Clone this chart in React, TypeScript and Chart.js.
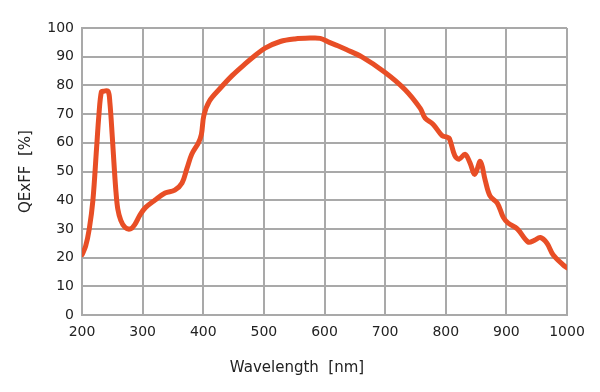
import React, { useEffect, useRef } from "react";
import { Chart, registerables } from "chart.js";

Chart.register(...registerables);

const wavelengths = [
  200, 206, 212, 218, 224, 228, 232, 236, 243, 246, 250, 253, 256, 259, 264, 271, 280, 287,
  296, 305, 320, 337, 353, 365, 373, 381, 392, 397, 401, 410, 428, 448, 469, 486, 502, 527,
  551, 576, 593, 608, 622, 636, 661, 700, 733, 758, 766, 779, 794, 802, 806, 815, 822, 832,
  840, 848, 857, 865, 873, 885, 895, 903, 918, 936, 946, 956, 967, 977, 994, 1000,
];
const qeValues = [
  21, 24, 30, 40, 58, 70, 77.8, 78, 78, 74, 62, 52, 43, 37, 33, 30.5, 30, 31.5,
  35, 37.5, 40, 42.5, 43.5, 46, 51, 56, 60, 63, 69.5, 74.5, 79, 83.5, 87.5, 90.5, 93, 95.3,
  96.2, 96.5, 96.4, 95, 93.8, 92.5, 90, 84.5, 78.5, 72, 68.6, 66.5, 62.5, 62, 61.5, 55.5, 54.3, 56,
  53, 49, 53.5, 47, 41.5, 39, 34, 32, 30, 25.4, 26, 27, 25, 21, 17.4, 16.5,
];
const xTicks = [200, 300, 400, 500, 600, 700, 800, 900, 1000];
const yTicks = [0, 10, 20, 30, 40, 50, 60, 70, 80, 90, 100];
const xTitle = "Wavelength  [nm]";
const yTitle = "QExFF  [%]";

export default function App() {
  const ref = useRef<HTMLCanvasElement | null>(null);

  useEffect(() => {
    document.body.style.margin = "0";
    const canvas = ref.current;
    if (!canvas) return;
    const points = wavelengths.map((w, i) => ({ x: w, y: qeValues[i] }));
    const gridColor = "#a9a9a9";
    const tickFont = { family: "DejaVu Sans", size: 14 };
    const chart = new Chart(canvas, {
      type: "scatter",
      data: {
        datasets: [
          {
            data: points,
            showLine: true,
            borderColor: "#e84e26",
            backgroundColor: "#e84e26",
            borderWidth: 5,
            pointRadius: 0,
            tension: 0.35,
            borderCapStyle: "round",
            borderJoinStyle: "round",
          },
        ],
      },
      options: {
        animation: false,
        responsive: false,
        layout: { padding: { left: 27, right: 33, top: 28, bottom: 0 } },
        plugins: {
          legend: { display: false },
          tooltip: { enabled: false },
          title: {
            display: true,
            position: "bottom",
            text: xTitle,
            color: "#222",
            font: { family: "DejaVu Sans", size: 15, weight: "normal" },
            padding: { top: 0, bottom: 15 },
          },
        },
        scales: {
          x: {
            type: "linear",
            min: 200,
            max: 1000,
            afterBuildTicks: (scale: any) => {
              scale.ticks = xTicks.map((v) => ({ value: v }));
            },
            afterFit: (scale: any) => {
              scale.height = 44;
            },
            grid: { color: gridColor, lineWidth: 2, drawTicks: false },
            border: { color: gridColor, width: 2 },
            ticks: {
              color: "#222",
              font: tickFont,
              padding: 9,
              maxRotation: 0,
              callback: (v: any) => String(v),
            },
          },
          y: {
            type: "linear",
            min: 0,
            max: 100,
            afterBuildTicks: (scale: any) => {
              scale.ticks = yTicks.map((v) => ({ value: v }));
            },
            afterFit: (scale: any) => {
              scale.width = 55;
            },
            grid: { color: gridColor, lineWidth: 2, drawTicks: false },
            border: { color: gridColor, width: 2 },
            ticks: { color: "#222", font: tickFont, padding: 8, callback: (v: any) => String(v) },
            title: {
              display: true,
              text: yTitle,
              color: "#222",
              font: { family: "DejaVu Sans", size: 15 },
              padding: { top: -10, bottom: 0 },
            },
          },
        },
      },
    });
    return () => chart.destroy();
  }, []);

  return (
    <div style={{ width: 600, height: 392, background: "#fff" }}>
      <canvas ref={ref} width={600} height={392} />
    </div>
  );
}
